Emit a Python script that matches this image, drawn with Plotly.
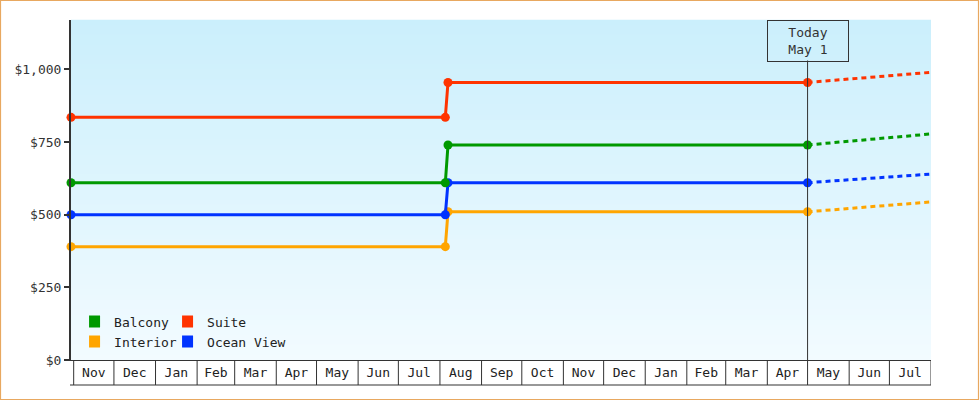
import plotly.graph_objects as go
import pandas as pd

# ---- data ----
axis_start = "2010-10-30"
axis_end = "2012-08-01"
today = "2012-05-01"
dates = ["2010-10-30", "2011-08-05", "2011-08-07", "2012-05-01"]
forecast_dates = ["2012-05-01", "2012-08-01"]

interior = [390, 390, 510, 510]
ocean_view = [500, 500, 610, 610]
balcony = [610, 610, 740, 740]
suite = [835, 835, 955, 955]

interior_fc = [510, 544]
ocean_view_fc = [610, 640]
balcony_fc = [740, 778]
suite_fc = [955, 990]

y_ticks = [0, 250, 500, 750, 1000]
y_tick_text = ["$0", "$250", "$500", "$750", "$1,000"]
month_starts = [d.strftime("%Y-%m-%d") for d in pd.date_range("2010-11-01", "2012-08-01", freq="MS")]

colors = {"Balcony": "#009900", "Suite": "#ff3300", "Interior": "#ffa500", "Ocean View": "#0033ff"}
FONT = "DejaVu Sans Mono"
INK = "#333333"

fig = go.Figure()

series = [("Interior", interior, interior_fc),
          ("Ocean View", ocean_view, ocean_view_fc),
          ("Balcony", balcony, balcony_fc),
          ("Suite", suite, suite_fc)]

for name, vals, fc in series:
    c = colors[name]
    fig.add_trace(go.Scatter(x=forecast_dates, y=fc, mode="lines", showlegend=False,
                             line=dict(color=c, width=3, dash="5px,4px"), cliponaxis=False, hoverinfo="skip"))
for name, vals, fc in series:
    c = colors[name]
    fig.add_trace(go.Scatter(x=dates, y=vals, mode="lines+markers", showlegend=False, name=name,
                             line=dict(color=c, width=3), marker=dict(color=c, size=9, symbol="circle"),
                             cliponaxis=False))

# legend-only entries (square swatches), two columns
legend_cols = [("legend", ["Balcony", "Interior"]), ("legend2", ["Suite", "Ocean View"])]
for lg, names in legend_cols:
    for n in names:
        fig.add_trace(go.Scatter(x=[None], y=[None], mode="markers", name=n, legend=lg,
                                 marker=dict(color=colors[n], symbol="square", size=12)))

# gradient background bands
shapes = []
N = 68
top = (203, 239, 252)
bot = (242, 251, 255)
for i in range(N):
    t = i / (N - 1)
    col = tuple(round(top[k] + (bot[k] - top[k]) * t) for k in range(3))
    shapes.append(dict(type="rect", xref="paper", yref="paper", x0=0, x1=1,
                       y0=1 - (i + 1) / N, y1=1 - i / N + 0.001, layer="below",
                       line=dict(width=0), fillcolor="rgb(%d,%d,%d)" % col))

# month cell boxes below axis
cell_h = 25 / 340
for m in month_starts:
    shapes.append(dict(type="line", xref="x", yref="paper", x0=m, x1=m, y0=0, y1=-cell_h,
                       line=dict(color=INK, width=1)))
shapes.append(dict(type="line", xref="paper", yref="paper", x0=-1 / 860, x1=1, y0=-cell_h, y1=-cell_h,
                   line=dict(color=INK, width=1.2)))

# today line
shapes.append(dict(type="line", xref="x", yref="paper", x0=today, x1=today, y0=0, y1=(340 - 40.5) / 340,
                   line=dict(color=INK, width=1)))

# outer border
shapes.append(dict(type="rect", xref="paper", yref="paper",
                   x0=-70.5 / 860, x1=(980 - 71 - 1.5) / 860,
                   y0=-39.5 / 340, y1=(340 + 19.5) / 340,
                   line=dict(color="#e8a860", width=1.2), fillcolor="rgba(0,0,0,0)"))

legend_common = dict(orientation="v", xanchor="left", yanchor="top", tracegroupgap=0,
                     bgcolor="rgba(0,0,0,0)", indentation=-15,
                     font=dict(family=FONT, size=13, color="#222"), itemsizing="constant")

fig.update_layout(
    width=980, height=400,
    margin=dict(l=71, r=49, t=20, b=40),
    paper_bgcolor="white", plot_bgcolor="#dff5fd",
    font=dict(family=FONT, size=13, color=INK),
    shapes=shapes,
    xaxis=dict(type="date", range=[axis_start, axis_end], dtick="M1", tick0="2010-11-01",
               tickformat="%b", ticklabelmode="period", ticks="", showgrid=False, zeroline=False,
               showline=True, linecolor=INK, linewidth=1, tickfont=dict(family=FONT, size=13, color="#222")),
    yaxis=dict(range=[0, 1170], tickmode="array", tickvals=y_ticks, ticktext=y_tick_text,
               showgrid=False, zeroline=False, showline=True, linecolor=INK, linewidth=2,
               ticks="outside", ticklen=5, tickwidth=2, tickcolor=INK,
               tickfont=dict(family=FONT, size=13, color=INK)),
    legend=dict(x=0.021, y=0.157, **legend_common),
    legend2=dict(x=0.021 + 93 / 860, y=0.157, **legend_common),
    annotations=[dict(x=today, xref="x", y=1, yref="paper", yanchor="top", xanchor="center",
                      text="Today<br>May 1", showarrow=False, align="center",
                      bordercolor=INK, borderwidth=1, borderpad=1, width=78, height=38,
                      font=dict(family=FONT, size=13, color=INK))],
    hovermode=False,
)

fig.write_html("out.html", config={"displayModeBar": False},
               post_script="document.body.style.margin='0';")
